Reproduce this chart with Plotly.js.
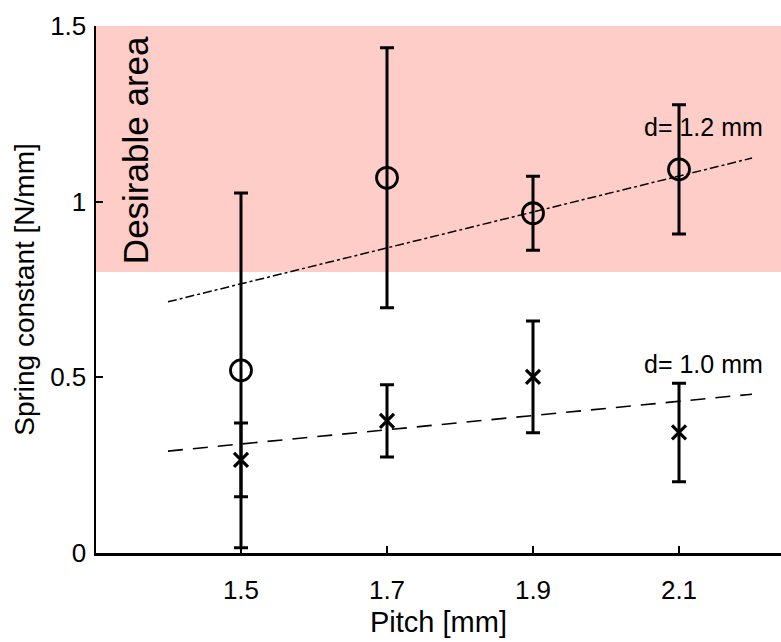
<!DOCTYPE html>
<html>
<head>
<meta charset="utf-8">
<script src="https://cdn.plot.ly/plotly-3.0.1.min.js"></script>
<style>html,body{margin:0;padding:0;background:#fff}#chart{width:781px;height:642px}</style>
</head>
<body>
<div id="chart"></div>
<script>
// Data
const pitch = [1.5, 1.7, 1.9, 2.1];
const k12 = [0.52, 1.068, 0.967, 1.092];
const err12 = [0.505, 0.37, 0.105, 0.184];
const k10 = [0.265, 0.376, 0.501, 0.343];
const err10 = [0.105, 0.103, 0.159, 0.14];
const fitX = [1.4, 2.2];
const fit12 = [0.715, 1.124];
const fit10 = [0.29, 0.452];
const xTicks = [1.5, 1.7, 1.9, 2.1];
const xTickText = ["1.5", "1.7", "1.9", "2.1"];
const yTicks = [0, 0.5, 1, 1.5];
const yTickText = ["0", "0.5", "1", "1.5"];
const desirable = [0.8, 1.5];

const FONT = "Liberation Sans, Arial, sans-serif";

const traces = [
  {x: fitX, y: fit12, mode: "lines", line: {color: "#000", width: 1.5, dash: "dashdot"}, hoverinfo: "skip", showlegend: false},
  {x: fitX, y: fit10, mode: "lines", line: {color: "#000", width: 1.6, dash: "15px,10px"}, hoverinfo: "skip", showlegend: false},
  {x: pitch, y: k12, mode: "markers", showlegend: false,
   marker: {symbol: "circle-open", size: 21, color: "#000", line: {width: 2.8, color: "#000"}},
   error_y: {type: "data", array: err12, visible: true, color: "#000", thickness: 3, width: 7}},
  {x: pitch, y: k10, mode: "markers", showlegend: false,
   marker: {symbol: "x-thin-open", size: 14, color: "#000", line: {width: 3.2, color: "#000"}},
   error_y: {type: "data", array: err10, visible: true, color: "#000", thickness: 3, width: 7}}
];

const layout = {
  width: 781, height: 642,
  margin: {l: 96, r: 0, t: 26, b: 89},
  paper_bgcolor: "#fff", plot_bgcolor: "rgba(0,0,0,0)",
  font: {family: FONT, color: "#000", size: 26},
  showlegend: false,
  xaxis: {
    range: [1.3014, 2.2397], tickvals: xTicks, ticktext: xTickText,
    showgrid: false, zeroline: false, showline: true, linecolor: "#000", linewidth: 2.5,
    ticks: "inside", ticklen: 7, tickwidth: 2, tickcolor: "#000",
    tickfont: {family: FONT, size: 26, color: "#000"}, ticklabelstandoff: 12,
    title: {text: "Pitch [mm]", font: {family: FONT, size: 29, color: "#000"}, standoff: 8}
  },
  yaxis: {
    range: [0, 1.5], tickvals: yTicks, ticktext: yTickText,
    showgrid: false, zeroline: false, showline: true, linecolor: "#000", linewidth: 2.5,
    ticks: "inside", ticklen: 7, tickwidth: 2, tickcolor: "#000",
    tickfont: {family: FONT, size: 26, color: "#000"}, ticklabelstandoff: 2,
    title: {text: "Spring constant [N/mm]", font: {family: FONT, size: 28, color: "#000"}, standoff: 8}
  },
  shapes: [
    {type: "rect", layer: "below", xref: "paper", yref: "y", x0: 0, x1: 1, y0: desirable[0], y1: desirable[1],
     fillcolor: "rgb(255,205,200)", line: {width: 0}}
  ],
  annotations: [
    {text: "Desirable area", textangle: -90, xref: "x", yref: "y", x: 1.355, y: 1.147, showarrow: false,
     font: {family: FONT, size: 35, color: "#000"}},
    {text: "d= 1.2 mm", xref: "x", yref: "y", x: 2.133, y: 1.213, showarrow: false,
     font: {family: FONT, size: 25, color: "#000"}},
    {text: "d= 1.0 mm", xref: "x", yref: "y", x: 2.133, y: 0.538, showarrow: false,
     font: {family: FONT, size: 25, color: "#000"}}
  ]
};

Plotly.newPlot("chart", traces, layout, {displayModeBar: false, staticPlot: true});
</script>
</body>
</html>
